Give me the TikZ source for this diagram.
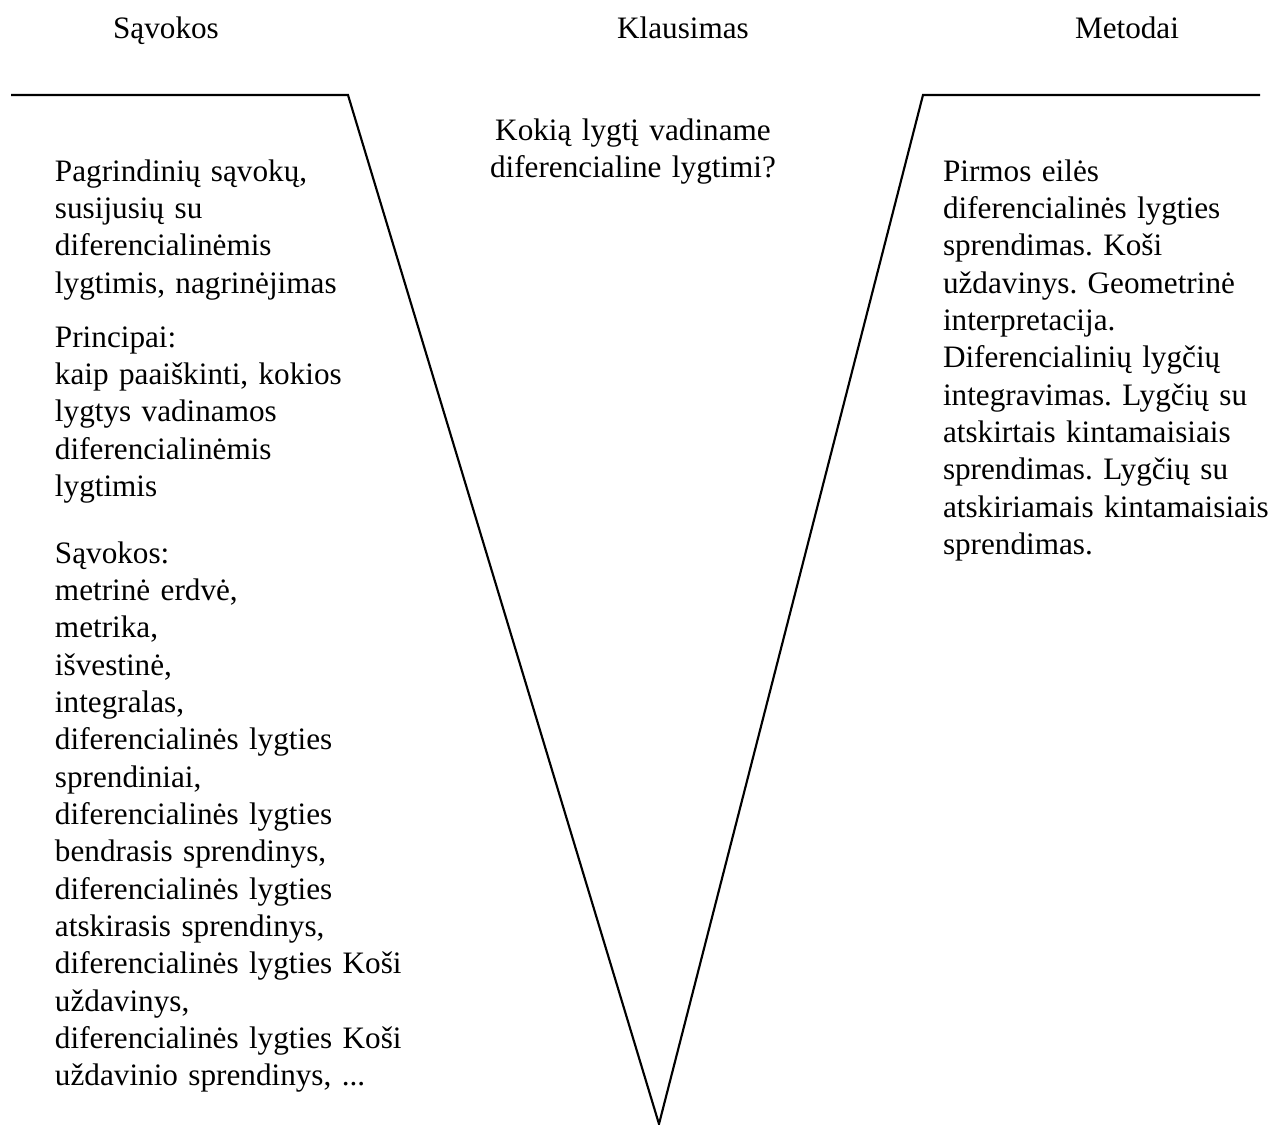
\documentclass[tikz,border=0pt]{standalone}
\usepackage{fontspec}
\setmainfont{Liberation Serif}
\frenchspacing
\begin{document}
\begin{tikzpicture}[x=0.375pt,y=-0.375pt,
  txt/.style={inner sep=0pt, outer sep=0pt, font=\fontsize{11.7pt}{14pt}\selectfont},
  title/.style={txt, anchor=base},
  block/.style={txt, anchor=base west, text width=160pt, align=left},
  vline/.style={line width=0.8pt, line join=miter}]
\useasboundingbox (0,0) rectangle (1277,1124);

% column headings
\node[title] (hconcepts) at (166,38) {Sąvokos};
\node[title] (hquestion) at (683,38) {Klausimas};
\node[title] (hmethods)  at (1127,38) {Metodai};

% the V-shaped frame
\coordinate (lt) at (11,95);
\coordinate (lc) at (348,95);
\coordinate (v)  at (659,1124);
\coordinate (rc) at (923,95);
\coordinate (rt) at (1260,95);
\draw[vline] (lt) -- (lc) -- (v) -- (rc) -- (rt);

% left column
\node[block] (aim) at (55,181) {Pagrindinių sąvokų,\\ susijusių su\\ diferencialinėmis\\ lygtimis, nagrinėjimas};
\node[block] (principles) at (55,347) {Principai:\\ kaip paaiškinti, kokios\\ lygtys vadinamos\\ diferencialinėmis\\ lygtimis};
\node[block] (concepts) at (55,563) {Sąvokos:\\ metrinė erdvė,\\ metrika,\\ išvestinė,\\ integralas,\\ diferencialinės lygties\\ sprendiniai,\\ diferencialinės lygties\\ bendrasis sprendinys,\\ diferencialinės lygties\\ atskirasis sprendinys,\\ diferencialinės lygties Koši\\ uždavinys,\\ diferencialinės lygties Koši\\ uždavinio sprendinys, ...};

% centre question
\node[txt, anchor=base, text width=140pt, align=center] (question) at (633,140) {Kokią lygtį vadiname\\ diferencialine lygtimi?};

% right column
\node[block] (methods) at (943,181) {Pirmos eilės\\ diferencialinės lygties\\ sprendimas. Koši\\ uždavinys. Geometrinė\\ interpretacija.\\ Diferencialinių lygčių\\ integravimas. Lygčių su\\ atskirtais kintamaisiais\\ sprendimas. Lygčių su\\ atskiriamais kintamaisiais\\ sprendimas.};
\end{tikzpicture}
\end{document}
